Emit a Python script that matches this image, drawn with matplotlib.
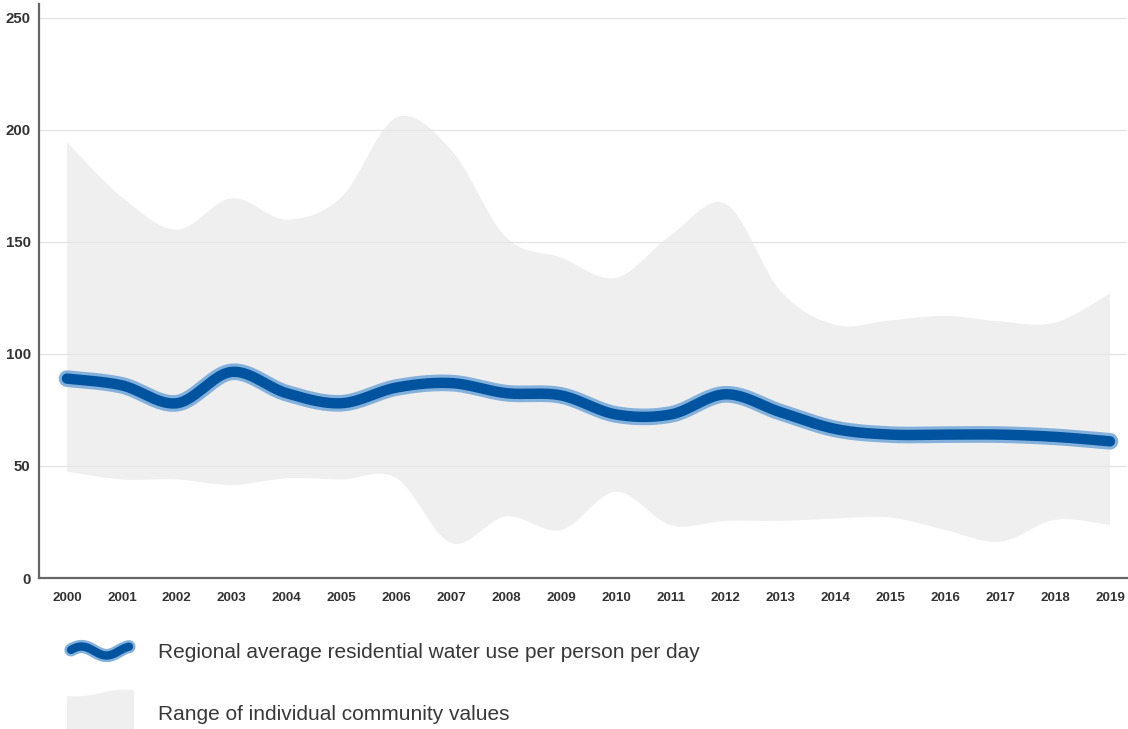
import numpy as np
import matplotlib
matplotlib.use("Agg")
import matplotlib.pyplot as plt

plt.rcParams['font.family'] = ['Liberation Sans', 'DejaVu Sans']

years = list(range(2000, 2020))
regional_avg = [89, 86, 78, 92, 82.5, 78, 85, 87, 82.5, 81.5,
                73, 73, 82, 74, 66.5, 64, 64, 64, 63, 61]
range_upper = [194.5, 170, 155.5, 169.5, 160, 170, 205.5, 191, 152, 143,
               134, 153, 167, 128, 113, 115, 117, 114.5, 114, 127]
range_lower = [47.5, 44, 44, 41.5, 44.5, 44, 44.6, 15.6, 27.5, 21.4,
               38.5, 23.6, 25.5, 25.5, 26.5, 27, 21.4, 16.2, 26, 23.7]
y_ticks = [0, 50, 100, 150, 200, 250]
legend_labels = ["Regional average residential water use per person per day",
                 "Range of individual community values"]


def spline(xs, ys, n=40):
    """Catmull-Rom (cardinal, tension 0) curve through the given points."""
    xs = np.asarray(xs, float)
    ys = np.asarray(ys, float)
    m = len(xs)
    tx = np.zeros(m)
    ty = np.zeros(m)
    for i in range(m):
        a = max(i - 1, 0)
        b = min(i + 1, m - 1)
        tx[i] = (xs[b] - xs[a]) / 2
        ty[i] = (ys[b] - ys[a]) / 2
    t = np.linspace(0, 1, n)
    h00 = 2 * t**3 - 3 * t**2 + 1
    h10 = t**3 - 2 * t**2 + t
    h01 = -2 * t**3 + 3 * t**2
    h11 = t**3 - t**2
    out_x, out_y = [xs[0]], [ys[0]]
    for i in range(m - 1):
        bx = h00 * xs[i] + h10 * tx[i] + h01 * xs[i+1] + h11 * tx[i+1]
        by = h00 * ys[i] + h10 * ty[i] + h01 * ys[i+1] + h11 * ty[i+1]
        out_x.extend(bx[1:])
        out_y.extend(by[1:])
    return np.array(out_x), np.array(out_y)


W, H = 1128, 729
fig = plt.figure(figsize=(W / 100, H / 100), dpi=100)
ax = fig.add_axes([39 / W, (H - 578) / H, (W - 40) / W, 574 / H])

ux, uy = spline(years, range_upper)
lx, ly = spline(years, range_lower)
ax.fill(np.concatenate([ux, lx[::-1]]), np.concatenate([uy, ly[::-1]]),
        color='#efefef', lw=0, zorder=0.3)

mx, my = spline(years, regional_avg)
ax.plot(mx, my, color='#84b0dc', lw=12, solid_capstyle='round', zorder=3)
ax.plot(mx, my, color='#00539f', lw=7.5, solid_capstyle='round', zorder=4)

ax.set_xlim(1999.49, 2019.31)
ax.set_ylim(0, 256.2)
ax.set_yticks(y_ticks)
ax.set_xticks(years)
ax.set_xticklabels([str(y) for y in years])
ax.set_axisbelow(True)
ax.yaxis.grid(True, color='#e6e6e6', lw=1)
for g in ax.yaxis.get_gridlines()[:1]:
    g.set_visible(False)
for side in ['top', 'right']:
    ax.spines[side].set_visible(False)
for side in ['left', 'bottom']:
    ax.spines[side].set_color('#666666')
    ax.spines[side].set_linewidth(1.6)
ax.tick_params(axis='both', length=0, colors='#333333')
ax.tick_params(axis='y', pad=6, labelsize=10.8)
ax.tick_params(axis='x', pad=10, labelsize=9.6)
for lbl in ax.get_xticklabels() + ax.get_yticklabels():
    lbl.set_fontweight('bold')

# legend drawn in figure pixel space
lg = fig.add_axes([0, 0, 1, 1], zorder=-1)
lg.set_xlim(0, W)
lg.set_ylim(H, 0)
lg.axis('off')
wx = np.linspace(71, 129, 60)
wy = 651 - 4.5 * np.sin((wx - 71) / 50 * 2 * np.pi + 0.25)
lg.plot(wx, wy, color='#84b0dc', lw=9.5, solid_capstyle='round')
lg.plot(wx, wy, color='#00539f', lw=6, solid_capstyle='round')
gx = np.linspace(67, 134, 40)
gtop = 696 - (gx - 67) / 67 * 6 + 1.5 * np.sin((gx - 67) / 67 * 2 * np.pi)
lg.fill(np.concatenate([gx, gx[::-1]]), np.concatenate([gtop, np.full_like(gx, 729)]),
        color='#efefef', lw=0)
lg.text(158, 653, legend_labels[0], fontsize=15, color='#383838', va='center', ha='left')
lg.text(158, 714, legend_labels[1], fontsize=15, color='#383838', va='center', ha='left')

fig.savefig('out.png', dpi=100)
